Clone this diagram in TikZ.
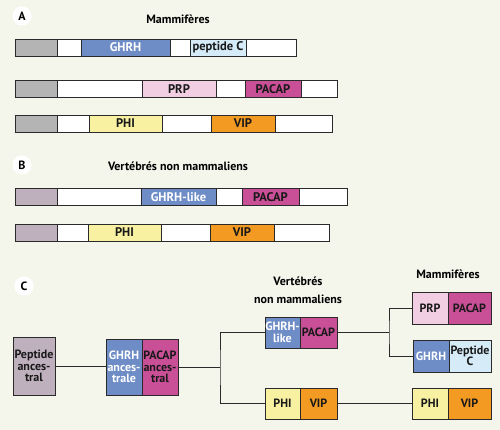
\documentclass[tikz,border=0pt]{standalone}
\usepackage{fontspec}
\setmainfont{PT Sans}
\usepackage{xcolor}
\definecolor{cbg}{HTML}{F4F6EC}
\definecolor{cline}{HTML}{2A2A2A}
\definecolor{cgrey}{HTML}{B4B4B4}
\definecolor{cmauve}{HTML}{BFB0BE}
\definecolor{cghrh}{HTML}{6E8CC6}
\definecolor{cpepc}{HTML}{D6EBF8}
\definecolor{cprp}{HTML}{F1CEE2}
\definecolor{cpacap}{HTML}{C94F97}
\definecolor{cphi}{HTML}{F8F1A2}
\definecolor{cvip}{HTML}{F29A22}
\usepackage{tikz}
\usetikzlibrary{positioning}
\tikzset{
node distance=0pt,
Segment/.style={
	draw=cline, line width=0.8pt,
	fill=white,
	minimum height=17pt,
	inner sep=0pt, outer sep=0pt,
	text=black!90,
	font=\bfseries\fontsize{12.5}{13}\selectfont
},
Box/.style={
	Segment,
	align=center,
	font=\bfseries\fontsize{12}{11.5}\selectfont
},
Lead/.style={fill=cgrey},
LeadB/.style={fill=cmauve},
GHRH/.style={fill=cghrh, text=white},
PepC/.style={fill=cpepc},
PRP/.style={fill=cprp},
PACAP/.style={fill=cpacap},
PHI/.style={fill=cphi},
VIP/.style={fill=cvip},
Title/.style={
	align=center,
	font=\bfseries\fontsize{12}{18}\selectfont
},
Tag/.style={
	circle, fill=white,
	minimum size=19pt, inner sep=0pt,
	font=\bfseries\fontsize{12}{12}\selectfont
},
Edge/.style={
	draw=cline, line width=0.8pt
}
}

\begin{document}
\begin{tikzpicture}[x=1pt, y=-1pt]
	\fill[cbg] (0,0) rectangle (500,430);

	% A
	\node[Tag] (tagA) at (22,16) {A};
	\node[Title] (titleA) at (178,19) {Mammifères};

	\node[Segment, Lead, minimum width=42pt, anchor=west] (a1lead) at (15,47.5) {};
	\node[Segment, minimum width=24pt, right=of a1lead] (a1w1) {};
	\node[Segment, GHRH, minimum width=89pt, right=of a1w1] (a1ghrh) {GHRH};
	\node[Segment, minimum width=20pt, right=of a1ghrh] (a1w2) {};
	\node[Segment, PepC, minimum width=56pt, right=of a1w2] (a1pepc) {peptide C};
	\node[Segment, minimum width=50pt, right=of a1pepc] (a1w3) {};

	\node[Segment, Lead, minimum width=42pt, anchor=west] (a2lead) at (15,89) {};
	\node[Segment, minimum width=85pt, right=of a2lead] (a2w1) {};
	\node[Segment, PRP, minimum width=74pt, right=of a2w1] (a2prp) {PRP};
	\node[Segment, minimum width=29pt, right=of a2prp] (a2w2) {};
	\node[Segment, PACAP, minimum width=56pt, right=of a2w2] (a2pacap) {PACAP};
	\node[Segment, minimum width=36pt, right=of a2pacap] (a2w3) {};

	\node[Segment, Lead, minimum width=42pt, anchor=west] (a3lead) at (15,123.5) {};
	\node[Segment, minimum width=32pt, right=of a3lead] (a3w1) {};
	\node[Segment, PHI, minimum width=73pt, right=of a3w1] (a3phi) {PHI};
	\node[Segment, minimum width=49pt, right=of a3phi] (a3w2) {};
	\node[Segment, VIP, minimum width=64pt, right=of a3w2] (a3vip) {VIP};
	\node[Segment, minimum width=57pt, right=of a3vip] (a3w3) {};

	% B
	\node[Tag] (tagB) at (22,165) {B};
	\node[Title] (titleB) at (178,166) {Vertébrés non mammaliens};

	\node[Segment, LeadB, minimum width=42pt, anchor=west] (b1lead) at (15,197) {};
	\node[Segment, minimum width=84pt, right=of b1lead] (b1w1) {};
	\node[Segment, GHRH, minimum width=75pt, right=of b1w1] (b1ghrh) {GHRH-like};
	\node[Segment, minimum width=26pt, right=of b1ghrh] (b1w2) {};
	\node[Segment, PACAP, minimum width=57pt, right=of b1w2] (b1pacap) {PACAP};
	\node[Segment, minimum width=48pt, right=of b1pacap] (b1w3) {};

	\node[Segment, LeadB, minimum width=42pt, anchor=west] (b2lead) at (15,232.5) {};
	\node[Segment, minimum width=31pt, right=of b2lead] (b2w1) {};
	\node[Segment, PHI, minimum width=73pt, right=of b2w1] (b2phi) {PHI};
	\node[Segment, minimum width=49pt, right=of b2phi] (b2w2) {};
	\node[Segment, VIP, minimum width=64pt, right=of b2w2] (b2vip) {VIP};
	\node[Segment, minimum width=55pt, right=of b2vip] (b2w3) {};

	% C
	\node[Tag] (tagC) at (24,286) {C};
	\node[Title] (titleCnm) at (298,290) {Vertébrés\\non mammaliens};
	\node[Title] (titleCm) at (448,274) {Mammifères};

	\node[Box, LeadB, minimum width=42pt, minimum height=58pt] (pepanc) at (34,366) {Peptide\\ances-\\tral};
	\node[Box, GHRH, minimum width=36pt, minimum height=56pt, anchor=west] (ghrhanc) at (106,367) {GHRH\\ances-\\trale};
	\node[Box, PACAP, minimum width=36pt, minimum height=56pt, right=of ghrhanc] (pacapanc) {PACAP\\ances-\\tral};
	\coordinate[right=42pt of pacapanc] (split1);

	\node[Box, GHRH, minimum width=35pt, minimum height=31pt, anchor=west] (ghrhlike) at (265,332.5) {GHRH-\\like};
	\node[Box, PACAP, minimum width=37pt, minimum height=31pt, right=of ghrhlike] (pacapnm) {PACAP};
	\node[Box, PHI, minimum width=35pt, minimum height=31pt, anchor=west] (phinm) at (265,403.5) {PHI};
	\node[Box, VIP, minimum width=37pt, minimum height=31pt, right=of phinm] (vipnm) {VIP};
	\coordinate[right=52pt of pacapnm] (split2);

	\node[Box, PRP, minimum width=36pt, minimum height=32pt, anchor=west] (prpm) at (412,308) {PRP};
	\node[Box, PACAP, minimum width=43pt, minimum height=32pt, right=of prpm] (pacapm) {PACAP};
	\node[Box, GHRH, minimum width=36pt, minimum height=32pt, anchor=west] (ghrhm) at (413,356) {GHRH};
	\node[Box, PepC, minimum width=42pt, minimum height=32pt, right=of ghrhm] (pepcm) {Peptide\\C};
	\node[Box, PHI, minimum width=36pt, minimum height=31pt, anchor=west] (phim) at (412,403.5) {PHI};
	\node[Box, VIP, minimum width=43pt, minimum height=31pt, right=of phim] (vipm) {VIP};

	\draw[Edge] (pepanc.east) -- (pepanc.east -| ghrhanc.west);
	\draw[Edge] (pacapanc.east) -- (split1);
	\draw[Edge] (ghrhlike.west) -| (split1) |- (phinm.west);
	\draw[Edge] (pacapnm.east) -- (split2);
	\draw[Edge] (prpm.west) -| (split2) |- (ghrhm.west);
	\draw[Edge] (vipnm.east) -- (phim.west);
\end{tikzpicture}
\end{document}
